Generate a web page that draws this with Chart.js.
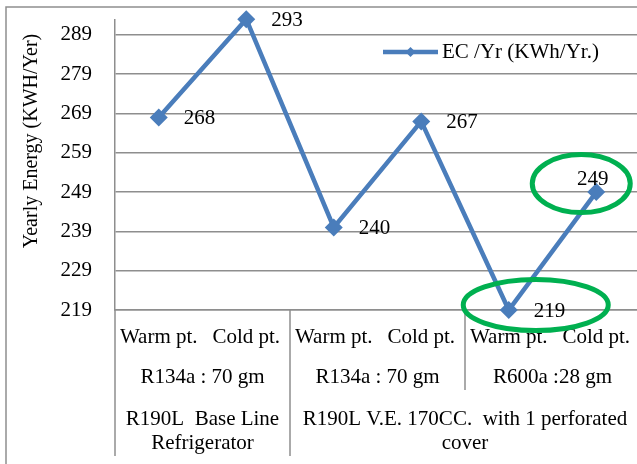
<!DOCTYPE html>
<html>
<head>
<meta charset="utf-8">
<script src="https://cdn.jsdelivr.net/npm/chart.js@4/dist/chart.umd.min.js"></script>
<style>
  html, body { margin: 0; padding: 0; background: #fff; overflow: hidden; }
  #wrap { position: relative; width: 640px; height: 464px; }
</style>
</head>
<body>
<div id="wrap"><canvas id="c" width="640" height="464"></canvas></div>
<script>
// Measurement points (first-level categories)
const categories = ['Warm pt.', 'Cold pt.', 'Warm pt.', 'Cold pt.', 'Warm pt.', 'Cold pt.'];
// Yearly energy consumption, kWh per year
const energyValues = [268, 293, 240, 267, 219, 249];
const yTickLabels = [219, 229, 239, 249, 259, 269, 279, 289];
const seriesName = 'EC /Yr (KWh/Yr.)';
const axisTitle = 'Yearly Energy (KWH/Yer)';

// Second level: refrigerant charge, with the category index range it spans
const chargeLabels = ['R134a : 70 gm', 'R134a : 70 gm', 'R600a :28 gm'];
const chargeSpans = [[0, 1], [2, 3], [4, 5]];
// Third level: refrigerator model
const modelLabels = [['R190L  Base Line', 'Refrigerator'], ['R190L V.E. 170CC.  with 1 perforated', 'cover']];
const modelSpans = [[0, 1], [2, 5]];
// Points circled as highlights
const highlightIndexes = [5, 4];

const SERIF = "'Liberation Serif', 'Times New Roman', serif";
const BLUE = '#4a7dbb';
const GRID = '#8e8e8e';

const decorations = {
  id: 'decorations',
  afterDraw(chart) {
    const ctx = chart.ctx;
    const x = chart.scales.x;
    const area = chart.chartArea;
    const step = x.getPixelForValue(1) - x.getPixelForValue(0);
    const leftOf = i => x.getPixelForValue(i) - step / 2;
    const rightOf = i => x.getPixelForValue(i) + step / 2;
    const bottom = area.bottom;

    ctx.save();
    // outer frame
    ctx.strokeStyle = GRID;
    ctx.lineWidth = 1.5;
    ctx.beginPath();
    ctx.moveTo(6, chart.height + 5);
    ctx.lineTo(6, 7);
    ctx.lineTo(chart.width + 5, 7);
    ctx.stroke();

    // category table lines below the axis
    ctx.beginPath();
    ctx.moveTo(area.left, bottom);
    ctx.lineTo(area.left, 456);
    modelSpans.forEach(s => {
      if (s[0] > 0) { const px = leftOf(s[0]); ctx.moveTo(px, bottom); ctx.lineTo(px, 456); }
    });
    chargeSpans.forEach(s => {
      const isModelEdge = modelSpans.some(m => m[0] === s[0]);
      if (s[0] > 0 && !isModelEdge) { const px = leftOf(s[0]); ctx.moveTo(px, bottom); ctx.lineTo(px, 390); }
    });
    ctx.stroke();

    // category labels
    ctx.fillStyle = '#000';
    ctx.font = '21px ' + SERIF;
    ctx.textAlign = 'center';
    ctx.textBaseline = 'middle';
    categories.forEach((c, i) => ctx.fillText(c, x.getPixelForValue(i), 337));
    chargeLabels.forEach((c, i) => {
      const s = chargeSpans[i];
      ctx.fillText(c, (leftOf(s[0]) + rightOf(s[1])) / 2, 377);
    });
    modelLabels.forEach((lines, i) => {
      const s = modelSpans[i];
      const cx = (leftOf(s[0]) + rightOf(s[1])) / 2;
      lines.forEach((t, k) => ctx.fillText(t, cx, 419 + k * 24));
    });

    // axis title
    ctx.save();
    ctx.translate(32, 141);
    ctx.rotate(-Math.PI / 2);
    ctx.font = '20px ' + SERIF;
    ctx.fillText(axisTitle, 0, 0);
    ctx.restore();

    // legend
    ctx.strokeStyle = BLUE;
    ctx.lineWidth = 4.5;
    ctx.beginPath();
    ctx.moveTo(383, 52);
    ctx.lineTo(438, 52);
    ctx.stroke();
    ctx.fillStyle = BLUE;
    ctx.beginPath();
    ctx.moveTo(410.5, 47); ctx.lineTo(415.5, 52); ctx.lineTo(410.5, 57); ctx.lineTo(405.5, 52);
    ctx.closePath();
    ctx.fill();
    ctx.fillStyle = '#000';
    ctx.font = '21px ' + SERIF;
    ctx.textAlign = 'left';
    ctx.fillText(seriesName, 442, 52);

    // highlight rings
    const pts = chart.getDatasetMeta(0).data;
    ctx.strokeStyle = '#00b050';
    ctx.lineWidth = 5;
    const hi = pts[highlightIndexes[0]];
    ctx.beginPath();
    ctx.ellipse(hi.x - 15, hi.y - 8.5, 49, 29, 0, 0, Math.PI * 2);
    ctx.stroke();
    const lo = pts[highlightIndexes[1]];
    ctx.beginPath();
    ctx.ellipse(lo.x + 27, lo.y - 5, 72.5, 25.5, 0, 0, Math.PI * 2);
    ctx.stroke();
    ctx.restore();
  },
  afterDatasetsDraw(chart) {
    // value labels beside each point
    const ctx = chart.ctx;
    const pts = chart.getDatasetMeta(0).data;
    ctx.save();
    ctx.fillStyle = '#000';
    ctx.font = '21px ' + SERIF;
    ctx.textBaseline = 'middle';
    pts.forEach((p, i) => {
      const t = String(energyValues[i]);
      const w = ctx.measureText(t).width;
      if (p.x + 25 + w > chart.chartArea.right) {
        ctx.textAlign = 'center';
        ctx.fillText(t, p.x - 3.5, p.y - 13);
      } else {
        ctx.textAlign = 'left';
        ctx.fillText(t, p.x + 25, p.y + 1);
      }
    });
    ctx.restore();
  }
};

new Chart(document.getElementById('c'), {
  type: 'line',
  data: {
    labels: categories,
    datasets: [{
      label: seriesName,
      data: energyValues,
      borderColor: BLUE,
      backgroundColor: BLUE,
      borderWidth: 4.5,
      pointStyle: 'rectRot',
      pointRadius: 9,
      pointBorderWidth: 0,
      pointBackgroundColor: BLUE,
      tension: 0,
      clip: false
    }]
  },
  options: {
    responsive: false,
    animation: false,
    devicePixelRatio: 1,
    layout: { autoPadding: false, padding: { top: 20, left: 0, right: 0, bottom: 0 } },
    plugins: { legend: { display: false }, tooltip: { enabled: false } },
    scales: {
      x: {
        type: 'category',
        offset: true,
        grid: { display: false },
        border: { display: true, color: GRID, width: 1.5 },
        ticks: { display: false },
        afterFit(s) { s.height = 154; s.paddingLeft = 0; s.paddingRight = 0; }
      },
      y: {
        min: 219,
        max: 292.8,
        afterBuildTicks(s) { s.ticks = yTickLabels.map(v => ({ value: v })); },
        grid: { color: GRID, lineWidth: 1.5, drawTicks: false },
        border: { display: true, color: GRID, width: 1.5 },
        ticks: { font: { family: SERIF, size: 21 }, color: '#000', padding: 23 },
        afterFit(s) { s.width = 115; s.paddingTop = 0; s.paddingBottom = 0; }
      }
    }
  },
  plugins: [decorations]
});
</script>
</body>
</html>
